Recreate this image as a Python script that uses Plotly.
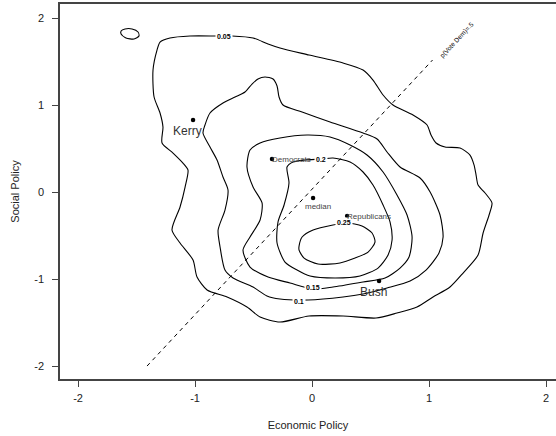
import plotly.graph_objects as go

# ---------------- data ----------------
# density contour level 0.05 (main ring)
c005_x = [-1.325, -1.299, -1.214, -1.043, -0.812, -0.684, -0.504, -0.376, -0.274, -0.026, 0.265, 0.436,
          0.521, 0.607, 0.692, 0.863, 0.983, 1.017, 1.060, 1.137, 1.265, 1.350, 1.385, 1.402, 1.419,
          1.479, 1.538, 1.513, 1.462, 1.419, 1.291, 1.179, 1.034, 0.897, 0.726, 0.547, 0.265, -0.026,
          -0.274, -0.444, -0.556, -0.726, -0.897, -0.983, -1.017, -1.128, -1.197, -1.128, -1.085,
          -1.060, -1.103, -1.188, -1.282, -1.274, -1.299, -1.350, -1.359, -1.325]
c005_y = [1.632, 1.724, 1.770, 1.793, 1.793, 1.793, 1.770, 1.701, 1.655, 1.575, 1.483, 1.402,
          1.287, 1.115, 1.000, 0.885, 0.770, 0.655, 0.563, 0.517, 0.506, 0.425, 0.310, 0.195, 0.080,
          -0.011, -0.126, -0.264, -0.471, -0.724, -0.931, -1.092, -1.207, -1.322, -1.391, -1.448,
          -1.425, -1.425, -1.494, -1.437, -1.322, -1.207, -1.126, -0.977, -0.782, -0.586, -0.437,
          -0.172, 0.057, 0.253, 0.333, 0.448, 0.563, 0.747, 0.908, 1.092, 1.402, 1.632]

# density contour level 0.05 (small island, top left)
c005b_x = [-1.632, -1.598, -1.538, -1.487, -1.479, -1.521, -1.590, -1.632, -1.632]
c005b_y = [1.851, 1.874, 1.874, 1.839, 1.793, 1.759, 1.770, 1.816, 1.851]

# density contour level 0.1
c010_x = [-0.932, -0.915, -0.872, -0.761, -0.658, -0.573, -0.513, -0.462, -0.402, -0.333, -0.299,
          -0.282, -0.248, -0.085, 0.154, 0.436, 0.556, 0.641, 0.752, 0.923, 1.009, 1.094, 1.120,
          1.085, 0.974, 0.838, 0.641, 0.436, 0.265, -0.034, -0.274, -0.385, -0.504, -0.675, -0.744,
          -0.786, -0.803, -0.744, -0.718, -0.761, -0.812, -0.872, -0.932]
c010_y = [0.678, 0.770, 0.908, 1.023, 1.092, 1.149, 1.241, 1.299, 1.322, 1.299, 1.218,
          1.092, 1.000, 0.920, 0.805, 0.678, 0.609, 0.460, 0.287, 0.161, 0.000, -0.264, -0.517,
          -0.701, -0.897, -1.023, -1.103, -1.172, -1.207, -1.241, -1.230, -1.195, -1.092, -0.989,
          -0.897, -0.632, -0.437, -0.207, 0.023, 0.172, 0.368, 0.517, 0.678]

# density contour level 0.15
c015_x = [-0.530, -0.444, -0.274, -0.043, 0.154, 0.325, 0.470, 0.607, 0.726, 0.812, 0.855, 0.829,
          0.752, 0.624, 0.436, 0.179, 0.009, -0.188, -0.376, -0.530, -0.590, -0.530, -0.444,
          -0.427, -0.504, -0.556, -0.530]
c015_y = [0.483, 0.563, 0.621, 0.655, 0.632, 0.540, 0.425, 0.230, -0.034, -0.264, -0.517, -0.747,
          -0.874, -0.989, -1.034, -1.092, -1.115, -1.046, -0.977, -0.862, -0.667, -0.517, -0.322,
          -0.126, 0.057, 0.287, 0.483]

# density contour level 0.2
c020_x = [-0.214, -0.162, -0.060, 0.077, 0.179, 0.325, 0.436, 0.521, 0.607, 0.667, 0.684, 0.650,
          0.564, 0.410, 0.197, -0.017, -0.128, -0.231, -0.299, -0.291, -0.239, -0.197, -0.214]
c020_y = [0.287, 0.345, 0.368, 0.379, 0.391, 0.345, 0.230, 0.080, -0.149, -0.345, -0.552, -0.724,
          -0.874, -0.966, -0.989, -0.966, -0.897, -0.805, -0.586, -0.345, -0.149, 0.103, 0.287]

# density contour level 0.25
c025_x = [-0.111, -0.085, 0.009, 0.179, 0.299, 0.427, 0.513, 0.538, 0.479, 0.368, 0.239, 0.051,
          -0.068, -0.111, -0.111]
c025_y = [-0.621, -0.517, -0.437, -0.379, -0.356, -0.391, -0.471, -0.575, -0.690, -0.759, -0.816,
          -0.828, -0.759, -0.667, -0.621]

# contour labels
level_text = ["0.05", "0.1", "0.15", "0.2", "0.25"]
level_label_x = [-0.752, -0.111, 0.009, 0.077, 0.274]
level_label_y = [1.793, -1.253, -1.103, 0.379, -0.345]

# named points
big_names = ["Kerry", "Bush"]
big_x = [-1.017, 0.573]
big_y = [0.828, -1.023]
small_names = ["Democrats", "median", "Republicans"]
small_x = [-0.342, 0.009, 0.300]
small_y = [0.379, -0.069, -0.276]

# p(Vote Dem) = .5 line
cut_x = [-1.41, 1.03]
cut_y = [-2.0, 1.517]
cut_label = "p(Vote Dem)=.5"
cut_label_x = 1.239
cut_label_y = 1.747

ticks = [-2, -1, 0, 1, 2]
tick_text = ["-2", "-1", "0", "1", "2"]

# ---------------- figure ----------------
FONT = "Liberation Sans, Arial, sans-serif"
fig = go.Figure()

line_style = dict(color="black", width=1.1, shape="spline", smoothing=0.7)
for xs, ys in [(c005_x, c005_y), (c005b_x, c005b_y), (c010_x, c010_y),
               (c015_x, c015_y), (c020_x, c020_y), (c025_x, c025_y)]:
    fig.add_trace(go.Scatter(x=xs, y=ys, mode="lines", line=line_style,
                             hoverinfo="skip", showlegend=False))

fig.add_trace(go.Scatter(x=cut_x, y=cut_y, mode="lines",
                         line=dict(color="black", width=1, dash="4px,4px"),
                         hoverinfo="skip", showlegend=False))

fig.add_trace(go.Scatter(x=big_x + small_x, y=big_y + small_y, mode="markers",
                         marker=dict(color="black", size=4.5),
                         hoverinfo="skip", showlegend=False))

# contour labels (white background breaks the line)
for t, lx, ly in zip(level_text, level_label_x, level_label_y):
    fig.add_annotation(x=lx, y=ly, text="<b>" + t + "</b>", showarrow=False,
                       font=dict(family=FONT, size=7, color="black"),
                       bgcolor="white", borderpad=1)

# point labels
big_shift = {"Kerry": (-5.5, -11), "Bush": (-6, -10.5)}
for n, px, py in zip(big_names, big_x, big_y):
    dx, dy = big_shift[n]
    fig.add_annotation(x=px, y=py, text=n, showarrow=False, xshift=dx, yshift=dy,
                       font=dict(family=FONT, size=12, color="#333"))

small_style = {"Democrats": ("left", -2, 0), "median": ("center", 5, -8.5),
               "Republicans": ("left", -2, 0)}
for n, px, py in zip(small_names, small_x, small_y):
    anc, dx, dy = small_style[n]
    fig.add_annotation(x=px, y=py, text=n, showarrow=False, xanchor=anc,
                       xshift=dx, yshift=dy,
                       font=dict(family=FONT, size=8, color="#444"))

fig.add_annotation(x=cut_label_x, y=cut_label_y, text=cut_label, showarrow=False,
                   textangle=-47, font=dict(family=FONT, size=6.5, color="black"))

axis_common = dict(showgrid=False, zeroline=False, showline=True, linecolor="#444",
                   linewidth=1.5, ticks="outside", ticklen=6, tickwidth=1.2,
                   tickcolor="#444", tickvals=ticks, ticktext=tick_text, automargin=False,
                   tickfont=dict(family=FONT, size=11, color="#222"))

fig.update_layout(
    width=556, height=436,
    margin=dict(l=60, r=0, t=4, b=57, autoexpand=False),
    paper_bgcolor="white", plot_bgcolor="white",
    xaxis=dict(range=[-2.154, 2.085], mirror=True, ticklabelstandoff=2,
               title=dict(text="Economic Policy", standoff=18,
                          font=dict(family=FONT, size=11, color="#222")),
               **axis_common),
    yaxis=dict(range=[-2.149, 2.161], ticklabelstandoff=6,
               title=dict(text="Social Policy", standoff=12,
                          font=dict(family=FONT, size=11, color="#222")),
               **axis_common),
)

fig.write_html("out.html", config={"displayModeBar": False},
               post_script="document.body.style.margin='0';")
